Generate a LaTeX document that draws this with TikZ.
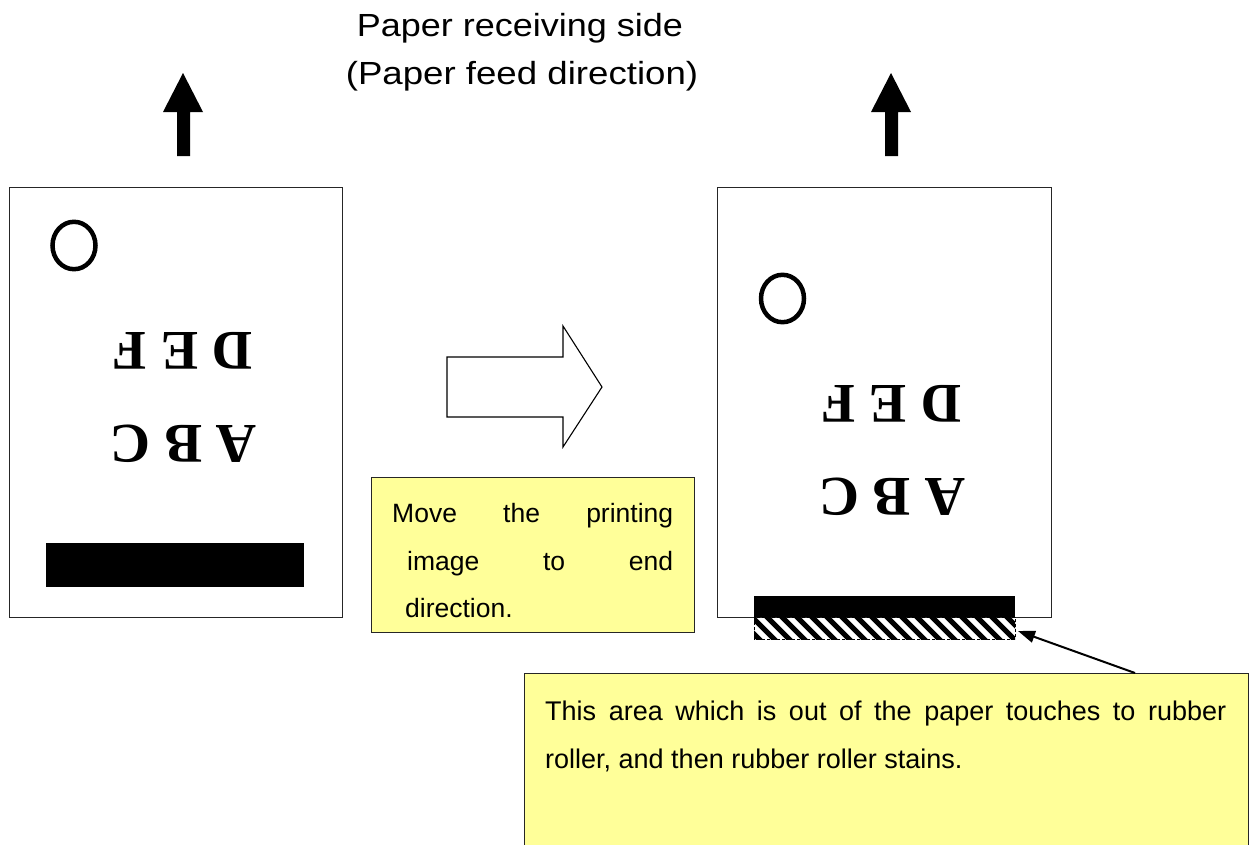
\documentclass[tikz,border=0pt]{standalone}
\usepackage{fontspec}
\usepackage{graphicx}
\setmainfont{Liberation Sans}
\newfontfamily\letterfont{Liberation Serif}
\usetikzlibrary{arrows.meta}
\definecolor{noteyellow}{HTML}{FFFF99}
\tikzset{
  page/.style={draw=black!85, line width=1.4pt, inner sep=0pt, anchor=north west},
  ringshape/.style={draw=black, line width=4.5pt},
  mirrortext/.style={font=\letterfont\bfseries\fontsize{56}{56}\selectfont, rotate=180, inner sep=0pt},
  notebox/.style={draw=black!85, line width=1.4pt, fill=noteyellow, inner sep=0pt, anchor=north west},
  notetext/.style={font=\fontsize{26.5}{30}\selectfont, anchor=base west, inner sep=0pt},
  titletext/.style={font=\fontsize{32}{36}\selectfont, anchor=base, inner sep=0pt},
  pointer/.style={-{Triangle[length=17pt,width=12pt]}, line width=2pt},
}
\begin{document}
\begin{tikzpicture}[x=1pt,y=-1pt]
\useasboundingbox (0,0) rectangle (1250,844);
\fill[white] (0,0) rectangle (1250,844);

% title
\node[titletext] (title1) at (520,36) {\scalebox{1.125}[1]{Paper receiving side}};
\node[titletext] (title2) at (522,84) {\scalebox{1.145}[1]{(Paper feed direction)}};

% up arrows
\foreach \cx in {183,891}{
  \fill (\cx,73) -- (\cx+20,112) -- (\cx+7,112) -- (\cx+7,156) -- (\cx-6,156) -- (\cx-6,112) -- (\cx-20,112) -- cycle;
}

% left paper
\node[page, minimum width=333pt, minimum height=430pt] (paperL) at (9,187) {};
\draw[ringshape] (74,245.5) ellipse [x radius=21.5, y radius=23.7];
\node[mirrortext] (defL) at (182.5,350.5) {D E F};
\node[mirrortext] (abcL) at (183.5,444) {A B C};
\fill (46,543) rectangle (304,587);

% right paper
\node[page, minimum width=334pt, minimum height=430pt] (paperR) at (717,187) {};
\draw[ringshape] (782.5,298.5) ellipse [x radius=21.5, y radius=23.7];
\node[mirrortext] (defR) at (891,403.5) {D E F};
\node[mirrortext] (abcR) at (892,497) {A B C};
\fill (754,596) rectangle (1015,617);
\begin{scope}
  \clip (754,617) rectangle (1015,639);
  \foreach \x in {715,730,...,1030}{
    \draw[line width=5pt] (\x,610) -- ++(36,36);
  }
\end{scope}
\draw[line width=0.8pt, dash pattern=on 3pt off 2pt] (754,617) rectangle (1015,639);

% outline arrow
\draw[line width=1.1pt, fill=white] (447,357) -- (563,357) -- (563,326) -- (602,387) -- (563,447) -- (563,417) -- (447,417) -- cycle;

% middle note
\node[notebox, minimum width=323pt, minimum height=155pt] (movebox) at (371,477) {};
\node[notetext] (mv1) at (392,522) {\makebox[281pt][s]{Move the printing}};
\node[notetext] (mv2) at (407,570) {\makebox[266pt][s]{image to end}};
\node[notetext] (mv3) at (405,617) {direction.};

% bottom note
\node[notebox, minimum width=724pt, minimum height=185pt] (stainbox) at (524,673) {};
\node[notetext, font=\fontsize{27}{30}\selectfont] (st1) at (545,720) {\makebox[681pt][s]{This area which is out of the paper touches to rubber}};
\node[notetext, font=\fontsize{27}{30}\selectfont] (st2) at (545,768) {roller, and then rubber roller stains.};

% pointer
\coordinate (ptrstart) at (1135,673);
\coordinate (hatchtip) at (1018,631);
\draw[pointer] (ptrstart) -- (hatchtip);
\end{tikzpicture}
\end{document}
